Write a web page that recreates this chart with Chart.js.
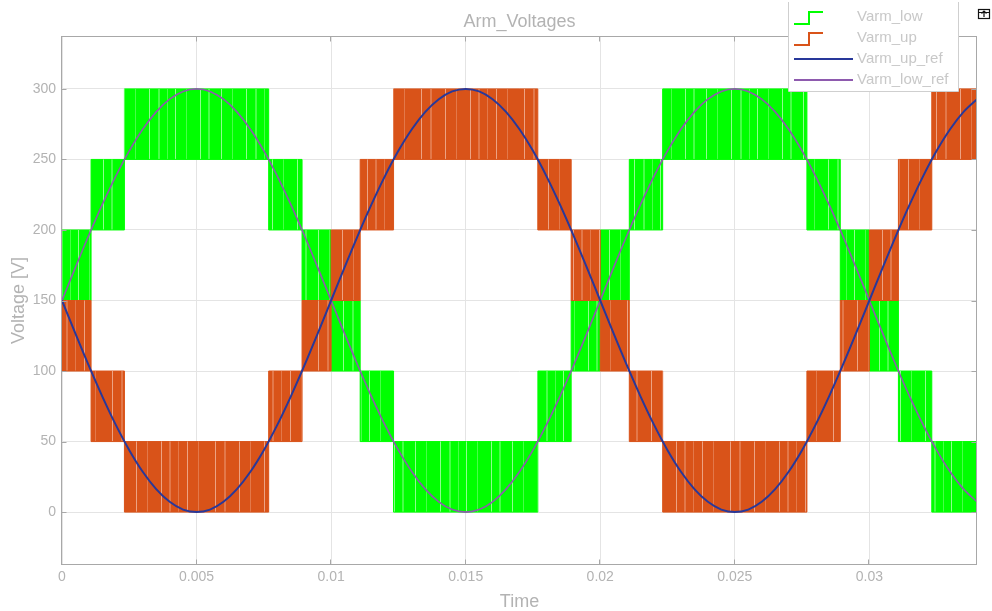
<!DOCTYPE html>
<html>
<head>
<meta charset="utf-8">
<title>Arm_Voltages</title>
<script src="https://cdn.jsdelivr.net/npm/chart.js@4.4.1/dist/chart.umd.min.js"></script>
<style>
  html, body { margin: 0; padding: 0; background: #ffffff; }
  #wrap { width: 992px; height: 611px; position: relative; }
</style>
</head>
<body>
<div id="wrap"><canvas id="chart" width="992" height="611"></canvas></div>
<script>
// ---- Arm voltage data -------------------------------------------------------
// Switching instants where each arm moves to a new pair of module levels [s]
const switchTimes = [0, 0.00108, 0.00232, 0.00768, 0.00892, 0.0100, 0.01108, 0.01232, 0.01768,
                     0.01892, 0.0200, 0.02108, 0.02232, 0.02768, 0.02892, 0.0300, 0.03108, 0.03232, 0.034];

// Lower arm: PWM between these two levels inside each interval [V]
const lowBandMin = [150, 200, 250, 200, 150, 100, 50, 0, 50, 100, 150, 200, 250, 200, 150, 100, 50, 0];
const lowBandMax = [200, 250, 300, 250, 200, 150, 100, 50, 100, 150, 200, 250, 300, 250, 200, 150, 100, 50];

// Upper arm: PWM between these two levels inside each interval [V]
const upBandMin = [100, 50, 0, 50, 100, 150, 200, 250, 200, 150, 100, 50, 0, 50, 100, 150, 200, 250];
const upBandMax = [150, 100, 50, 100, 150, 200, 250, 300, 250, 200, 150, 100, 50, 100, 150, 200, 250, 300];

// Reference waveforms, sampled every 0.5 ms [s]
const refTime = [0, 0.0005, 0.001, 0.0015, 0.002, 0.0025, 0.003, 0.0035, 0.004, 0.0045,
                 0.005, 0.0055, 0.006, 0.0065, 0.007, 0.0075, 0.008, 0.0085, 0.009, 0.0095,
                 0.01, 0.0105, 0.011, 0.0115, 0.012, 0.0125, 0.013, 0.0135, 0.014, 0.0145,
                 0.015, 0.0155, 0.016, 0.0165, 0.017, 0.0175, 0.018, 0.0185, 0.019, 0.0195,
                 0.02, 0.0205, 0.021, 0.0215, 0.022, 0.0225, 0.023, 0.0235, 0.024, 0.0245,
                 0.025, 0.0255, 0.026, 0.0265, 0.027, 0.0275, 0.028, 0.0285, 0.029, 0.0295,
                 0.03, 0.0305, 0.031, 0.0315, 0.032, 0.0325, 0.033, 0.0335, 0.034];

const varmLowRef = [150, 173.5, 196.4, 218.1, 238.2, 256.1, 271.4, 283.7, 292.7, 298.2,
                    300, 298.2, 292.7, 283.7, 271.4, 256.1, 238.2, 218.1, 196.4, 173.5,
                    150, 126.5, 103.6, 81.9, 61.8, 43.9, 28.6, 16.3, 7.3, 1.8,
                    0, 1.8, 7.3, 16.3, 28.6, 43.9, 61.8, 81.9, 103.6, 126.5,
                    150, 173.5, 196.4, 218.1, 238.2, 256.1, 271.4, 283.7, 292.7, 298.2,
                    300, 298.2, 292.7, 283.7, 271.4, 256.1, 238.2, 218.1, 196.4, 173.5,
                    150, 126.5, 103.6, 81.9, 61.8, 43.9, 28.6, 16.3, 7.3];

const varmUpRef = [150, 126.5, 103.6, 81.9, 61.8, 43.9, 28.6, 16.3, 7.3, 1.8,
                   0, 1.8, 7.3, 16.3, 28.6, 43.9, 61.8, 81.9, 103.6, 126.5,
                   150, 173.5, 196.4, 218.1, 238.2, 256.1, 271.4, 283.7, 292.7, 298.2,
                   300, 298.2, 292.7, 283.7, 271.4, 256.1, 238.2, 218.1, 196.4, 173.5,
                   150, 126.5, 103.6, 81.9, 61.8, 43.9, 28.6, 16.3, 7.3, 1.8,
                   0, 1.8, 7.3, 16.3, 28.6, 43.9, 61.8, 81.9, 103.6, 126.5,
                   150, 173.5, 196.4, 218.1, 238.2, 256.1, 271.4, 283.7, 292.7];

// Axis ticks
const xTicks = [0, 0.005, 0.01, 0.015, 0.02, 0.025, 0.03];
const xTickLabels = ['0', '0.005', '0.01', '0.015', '0.02', '0.025', '0.03'];
const yTicks = [0, 50, 100, 150, 200, 250, 300];
const yTickLabels = ['0', '50', '100', '150', '200', '250', '300'];

const seriesNames = ['Varm_low', 'Varm_up', 'Varm_up_ref', 'Varm_low_ref'];

// ---- Styling ---------------------------------------------------------------
const GREEN = '#00ff00';
const ORANGE = '#d95319';
const BLUE = '#28389a';
const PURPLE = '#8e5aae';
const FONT = '"Liberation Sans", Arial, Helvetica, sans-serif';
const TEXT_GREY = '#b3b3b3';

// Fine vertical switching texture for the PWM bands
function stripePattern(base, lightA, lightB, colsA, colsB, width) {
  const c = document.createElement('canvas');
  c.width = width; c.height = 4;
  const g = c.getContext('2d');
  g.fillStyle = base; g.fillRect(0, 0, width, 4);
  g.fillStyle = lightA;
  colsA.forEach(cx => g.fillRect(cx, 0, 1, 4));
  g.fillStyle = lightB;
  colsB.forEach(cx => g.fillRect(cx, 0, 1, 4));
  return g.createPattern(c, 'repeat');
}
const greenFill = stripePattern(GREEN, '#8dff8d', '#47ff47',
  [6, 27, 52, 78], [14, 15, 38, 61, 62, 70, 89], 97);
const orangeFill = stripePattern(ORANGE, '#eda283', '#e3784a',
  [9, 33, 58, 84], [18, 19, 44, 66, 67, 75, 95], 103);

// Stepped envelope: each level holds from its switching instant to the next one
function envelope(levels) {
  const pts = levels.map((v, i) => ({ x: switchTimes[i], y: v }));
  pts.push({ x: switchTimes[switchTimes.length - 1], y: levels[levels.length - 1] });
  return pts;
}
function refPoints(values) {
  return values.map((v, i) => ({ x: refTime[i], y: v }));
}

const bandStyle = (color) => ({
  stepped: 'before', pointRadius: 0, borderWidth: 1, borderColor: color, tension: 0
});

const datasets = [
  Object.assign({ label: 'Varm_low max', data: envelope(lowBandMax), fill: false, order: 5 }, bandStyle(GREEN)),
  Object.assign({ label: 'Varm_low min', data: envelope(lowBandMin), fill: 0, backgroundColor: greenFill, order: 4 }, bandStyle(GREEN)),
  Object.assign({ label: 'Varm_up max', data: envelope(upBandMax), fill: false, order: 3 }, bandStyle(ORANGE)),
  Object.assign({ label: 'Varm_up min', data: envelope(upBandMin), fill: 2, backgroundColor: orangeFill, order: 2 }, bandStyle(ORANGE)),
  { label: 'Varm_low_ref', data: refPoints(varmLowRef), borderColor: PURPLE, borderWidth: 1.6,
    pointRadius: 0, fill: false, cubicInterpolationMode: 'monotone', order: 1 },
  { label: 'Varm_up_ref', data: refPoints(varmUpRef), borderColor: BLUE, borderWidth: 2,
    pointRadius: 0, fill: false, cubicInterpolationMode: 'monotone', order: 0 }
];

// ---- Frame, titles and legend ---------------------------------------------
const decorations = {
  id: 'decorations',
  afterDraw(chart) {
    const { ctx, chartArea: a, scales } = chart;
    const xs = scales.x, ys = scales.y;
    ctx.save();

    // axes box
    const L = Math.round(a.left) - 0.5, R = Math.round(a.right) - 0.5;
    const T = Math.round(a.top) + 0.5, B = Math.round(a.bottom) - 0.5;
    ctx.strokeStyle = '#a8a8a8';
    ctx.lineWidth = 1;
    ctx.strokeRect(L, T, R - L, B - T);

    // inward tick marks on all four sides
    ctx.beginPath();
    xTicks.forEach(v => {
      const px = Math.round(xs.getPixelForValue(v)) - 0.5;
      ctx.moveTo(px, B); ctx.lineTo(px, B - 5);
      ctx.moveTo(px, T); ctx.lineTo(px, T + 5);
    });
    yTicks.forEach(v => {
      const py = Math.round(ys.getPixelForValue(v)) + 0.5;
      ctx.moveTo(L, py); ctx.lineTo(L + 5, py);
      ctx.moveTo(R, py); ctx.lineTo(R - 5, py);
    });
    ctx.stroke();

    // titles
    ctx.fillStyle = TEXT_GREY;
    ctx.font = '18px ' + FONT;
    ctx.textAlign = 'center';
    ctx.textBaseline = 'middle';
    const cx = (a.left + a.right) / 2;
    ctx.fillText('Arm_Voltages', cx, 22);
    ctx.fillText('Time', cx, 602);
    ctx.save();
    ctx.translate(19, (a.top + a.bottom) / 2);
    ctx.rotate(-Math.PI / 2);
    ctx.fillText('Voltage [V]', 0, 0);
    ctx.restore();

    // legend box
    const bx = 788.5, by = 2, bw = 170, bh = 89;
    ctx.fillStyle = '#ffffff';
    ctx.fillRect(bx, by, bw, bh);
    ctx.strokeStyle = '#cfcfcf';
    ctx.beginPath();
    ctx.moveTo(bx, by); ctx.lineTo(bx, by + bh + 0.5);
    ctx.lineTo(bx + bw, by + bh + 0.5); ctx.lineTo(bx + bw, by);
    ctx.stroke();

    const rowY = [17, 38, 59, 80];
    ctx.lineWidth = 2;
    // step icons
    [[GREEN, rowY[0]], [ORANGE, rowY[1]]].forEach(([col, yy]) => {
      ctx.strokeStyle = col;
      ctx.beginPath();
      ctx.moveTo(794, yy + 7); ctx.lineTo(809, yy + 7);
      ctx.lineTo(809, yy - 5); ctx.lineTo(823, yy - 5);
      ctx.stroke();
    });
    // line icons
    [[BLUE, rowY[2]], [PURPLE, rowY[3]]].forEach(([col, yy]) => {
      ctx.strokeStyle = col;
      ctx.beginPath();
      ctx.moveTo(794, yy); ctx.lineTo(853, yy);
      ctx.stroke();
    });
    ctx.fillStyle = '#c8c8c8';
    ctx.font = '15px ' + FONT;
    ctx.textAlign = 'left';
    seriesNames.forEach((n, i) => ctx.fillText(n, 857, rowY[i]));

    // small toolbar glyph at the corner
    ctx.strokeStyle = '#111111';
    ctx.lineWidth = 1.2;
    ctx.strokeRect(978.5, 9.5, 11, 9);
    ctx.beginPath();
    ctx.moveTo(984, 17); ctx.lineTo(984, 11);
    ctx.moveTo(981.5, 13.5); ctx.lineTo(984, 11); ctx.lineTo(986.5, 13.5);
    ctx.moveTo(978.5, 12.5); ctx.lineTo(989.5, 12.5);
    ctx.stroke();

    ctx.restore();
  }
};

new Chart(document.getElementById('chart'), {
  type: 'line',
  data: { datasets },
  options: {
    responsive: false,
    animation: false,
    events: [],
    layout: { padding: { left: 0, right: 15, top: 36, bottom: 0 } },
    plugins: {
      legend: { display: false },
      tooltip: { enabled: false },
      title: { display: false }
    },
    scales: {
      x: {
        type: 'linear',
        min: 0, max: 0.034,
        afterFit: s => { s.height = 46; },
        afterBuildTicks: s => { s.ticks = xTicks.map(v => ({ value: v })); },
        ticks: {
          callback: (v) => xTickLabels[xTicks.indexOf(v)] ?? '',
          color: TEXT_GREY, font: { family: FONT, size: 14 }, padding: 4, maxRotation: 0
        },
        grid: { color: '#e4e4e4', drawTicks: false },
        border: { display: false }
      },
      y: {
        type: 'linear',
        min: -37.5, max: 337.5,
        afterFit: s => { s.width = 62; },
        afterBuildTicks: s => { s.ticks = yTicks.map(v => ({ value: v })); },
        ticks: {
          callback: (v) => yTickLabels[yTicks.indexOf(v)] ?? '',
          color: TEXT_GREY, font: { family: FONT, size: 14 }, padding: 6
        },
        grid: { color: '#e4e4e4', drawTicks: false },
        border: { display: false }
      }
    }
  },
  plugins: [decorations]
});
</script>
</body>
</html>
